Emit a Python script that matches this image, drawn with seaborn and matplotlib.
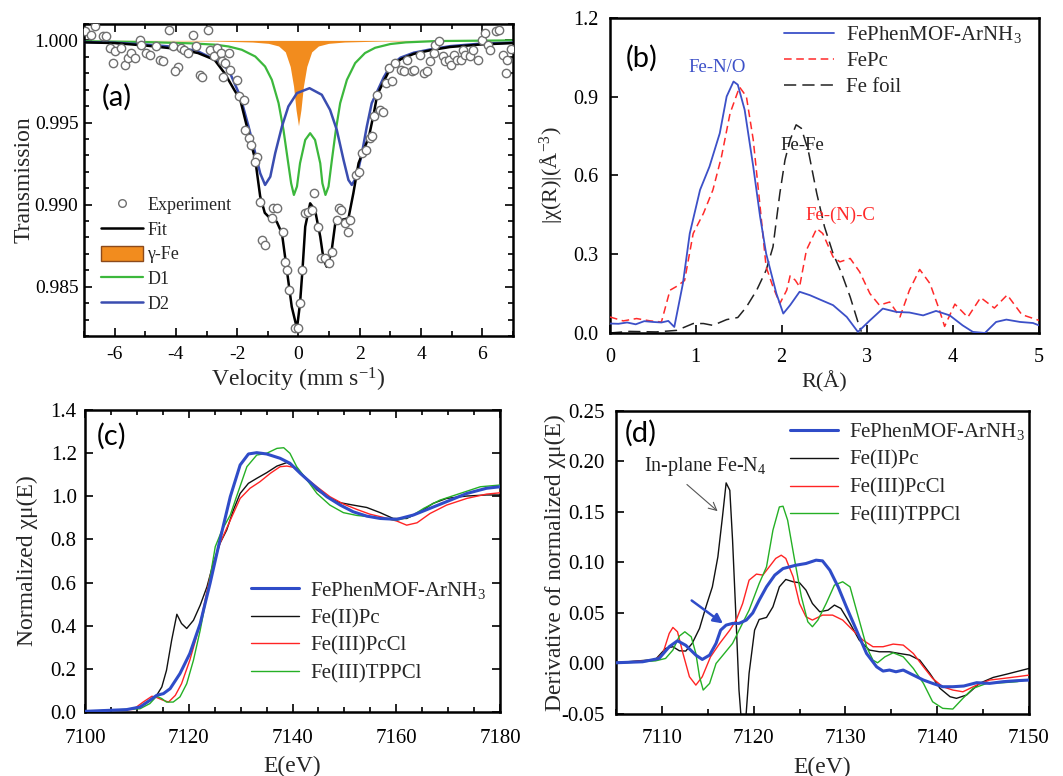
import numpy as np
import pandas as pd
import matplotlib
matplotlib.use('agg')
import matplotlib.pyplot as plt
from matplotlib.patches import Patch
from matplotlib.ticker import MultipleLocator, FormatStrFormatter
import seaborn as sns

sns.set_theme(style="ticks")
plt.rcParams['font.family'] = ['Liberation Serif', 'DejaVu Serif']
plt.rcParams['mathtext.fontset'] = 'custom'
plt.rcParams['mathtext.rm'] = 'Liberation Serif'
plt.rcParams['mathtext.it'] = 'Liberation Serif:italic'
plt.rcParams['axes.unicode_minus'] = False

# ---------------- (a) Moessbauer spectrum ----------------
exp_v = [-6.96, -6.78, -6.65, -6.38, -6.27, -6.16, -6.00, -6.05, -5.78, -5.67, -5.57, -5.46, -5.35,
         -5.18, -5.13, -4.97, -4.86, -4.64, -4.53, -4.42, -4.21, -4.10, -3.93, -4.04, -3.83, -3.72,
         -3.61, -3.45, -3.34, -3.23, -3.15, -2.96, -2.90, -2.76, -2.65, -2.52, -2.47,
         -2.50, -2.39, -2.28, -2.23, -2.01, -1.93, -1.79, -1.74, -1.63, -1.54, -1.36, -1.41, -1.25,
         -1.20, -1.09, -0.87, -0.82, -0.71, -0.49, -0.43, -0.38, -0.30, -0.12, -0.02, 0.05, 0.13,
         0.22, 0.30, 0.43, 0.51, 0.65, 0.74, 0.87, 0.98, 1.09, 1.25, 1.33, 1.39, 1.52, 1.61, 1.68,
         1.87, 1.96, 2.07, 2.20, 2.34, 2.39,
         2.46, 2.57, 2.67, 2.76, 2.84, 3.05, 2.95, 3.16, 3.33, 3.43, 3.54, 3.70, 3.76, 3.98, 4.08,
         4.19, 4.30, 4.41, 4.46, 4.60, 4.73, 4.79, 4.90, 4.97, 5.06, 5.17, 5.30, 5.38, 5.44, 5.60,
         5.71, 5.87, 5.98, 6.09, 6.17, 6.25, 6.44, 6.55, 6.66, 6.77, 6.81, 6.92]
exp_t = [1.00055, 1.00035, 1.00089, 1.00024, 1.00028, 0.99953, 0.99933, 0.99862, 0.99953, 0.99852,
         0.99892, 0.99923, 0.99892, 1.00004, 0.99974, 0.99923, 0.99913, 0.99963, 0.99882, 0.99872,
         1.00065, 0.99963, 0.99841, 0.99811, 0.99953, 0.99943, 0.99923, 1.00035, 0.99963, 0.99791,
         0.99780, 1.00065, 0.99943, 0.99902, 0.99953, 0.99923, 0.99780,
         0.99872, 0.99862, 0.99923, 0.99821, 0.99760, 0.99659, 0.99638, 0.99455, 0.99404, 0.99364,
         0.99293, 0.99262, 0.99018, 0.98785, 0.98754, 0.98917, 0.98978, 0.98978, 0.98835, 0.98652,
         0.98602, 0.98480, 0.98246, 0.98246, 0.98398, 0.98602, 0.98947, 0.98957, 0.98967, 0.99069,
         0.98866, 0.98673, 0.98673, 0.98642, 0.98713, 0.98907, 0.98978, 0.98967, 0.98886, 0.98835,
         0.98907, 0.99181, 0.99201, 0.99313, 0.99333, 0.99404, 0.99415,
         0.99537, 0.99669, 0.99577, 0.99561, 0.99740, 0.99750, 0.99831, 0.99862, 0.99821, 0.99811,
         0.99882, 0.99811, 0.99821, 0.99913, 0.99801, 0.99811, 0.99872, 0.99923, 0.99974, 0.99994,
         0.99902, 0.99872, 0.99882, 0.99852, 0.99913, 0.99882, 0.99882, 0.99943, 0.99913, 0.99902,
         0.99943, 0.99882, 1.00004, 1.00045, 0.99974, 0.99943, 1.00055, 1.00065, 0.99913, 0.99801,
         0.99882, 0.99950]

fit_v = [-7.0, -6.0, -4.9, -3.9, -3.28, -2.74, -2.41, -2.1, -1.9, -1.63, -1.41, -1.25, -1.1, -0.98,
         -0.71, -0.54, -0.38, -0.22, -0.05, 0.05, 0.13, 0.22, 0.38, 0.54, 0.71, 0.82, 0.92, 1.07,
         1.20, 1.41, 1.63, 1.79, 1.96, 2.13, 2.30, 2.46, 2.57, 2.78, 3.0, 3.33, 3.76, 4.30, 4.95,
         5.93, 7.0]
fit_t = [0.99988, 0.99984, 0.99967, 0.99947, 0.99923, 0.99882, 0.99800, 0.99700, 0.99638, 0.99435,
         0.99272, 0.99050, 0.98950, 0.98927, 0.98896, 0.98825, 0.98602, 0.98378, 0.98246, 0.98398,
         0.98602, 0.98866, 0.99008, 0.98967, 0.98805, 0.98663, 0.98622, 0.98703, 0.98886, 0.98907,
         0.98917, 0.99069, 0.99252, 0.99333, 0.99415, 0.99557, 0.99669, 0.99750, 0.99830, 0.99885,
         0.99918, 0.99940, 0.99960, 0.99975, 0.99984]

gfe_v = [-7, -2.7, -1.5, -0.98, -0.65, -0.43, -0.27, -0.16, -0.08, 0.0, 0.08, 0.16, 0.27, 0.43,
         0.65, 0.98, 1.5, 2.7, 7]
gfe_t = [1.0, 0.99996, 0.99990, 0.99982, 0.99966, 0.99930, 0.99841, 0.99720, 0.99577, 0.99480,
         0.99577, 0.99720, 0.99841, 0.99930, 0.99966, 0.99982, 0.99990, 0.99996, 1.0]

d1_v = [-7, -5, -3.5, -2.72, -2.28, -1.85, -1.41, -1.09, -0.87, -0.65, -0.49, -0.35, -0.24, -0.15,
        -0.05, 0.05, 0.22, 0.38, 0.54, 0.71, 0.78, 0.88, 0.98, 1.09, 1.22, 1.36, 1.58, 1.85, 2.17,
        2.5, 3.0, 3.5, 4.5, 7.0]
d1_t = [0.99995, 0.99990, 0.99982, 0.99974, 0.99963, 0.99943, 0.99902, 0.99841, 0.99760, 0.99618,
        0.99455, 0.99272, 0.99130, 0.99059, 0.99110, 0.99252, 0.99394, 0.99435, 0.99394, 0.99252,
        0.99130, 0.99059, 0.99110, 0.99272, 0.99455, 0.99618, 0.99760, 0.99862, 0.99923, 0.99955,
        0.99978, 0.99988, 0.99996, 1.0]

d2_v = [-7, -6, -5, -4, -3.3, -2.72, -2.28, -1.90, -1.63, -1.41, -1.25, -1.09, -0.92, -0.76, -0.54,
        -0.33, -0.05, 0.36, 0.76, 1.03, 1.25, 1.47, 1.63, 1.74, 1.90, 2.07, 2.23, 2.39, 2.57, 2.78,
        3.0, 3.33, 3.76, 4.3, 4.95, 5.93, 7.0]
d2_t = [0.99990, 0.99986, 0.99975, 0.99960, 0.99935, 0.99882, 0.99821, 0.99659, 0.99476, 0.99313,
        0.99191, 0.99120, 0.99170, 0.99313, 0.99476, 0.99598, 0.99679, 0.99709, 0.99669, 0.99577,
        0.99455, 0.99272, 0.99150, 0.99120, 0.99170, 0.99313, 0.99476, 0.99618, 0.99690, 0.99775,
        0.99845, 0.99895, 0.99925, 0.99945, 0.99965, 0.99980, 0.99986]

# ---------------- (b) Fourier transformed EXAFS ----------------
r_mof = [0.0, 0.1, 0.2, 0.3, 0.4, 0.5, 0.6, 0.68, 0.75, 0.85, 0.93, 1.05, 1.16, 1.28, 1.36, 1.44,
         1.49, 1.57, 1.67, 1.75, 1.82, 1.94, 2.02, 2.10, 2.21, 2.33, 2.45, 2.60, 2.76, 2.89, 3.03,
         3.18, 3.34, 3.49, 3.65, 3.80, 3.96, 4.11, 4.23, 4.37, 4.50, 4.62, 4.78, 4.93, 5.0]
chi_mof = [0.036, 0.035, 0.040, 0.033, 0.045, 0.042, 0.040, 0.046, 0.023, 0.188, 0.379, 0.545,
           0.634, 0.761, 0.901, 0.958, 0.946, 0.850, 0.634, 0.443, 0.303, 0.150, 0.074, 0.106,
           0.157, 0.144, 0.127, 0.106, 0.061, 0.004, 0.048, 0.093, 0.080, 0.078, 0.067, 0.084,
           0.067, 0.029, 0.004, 0.000, 0.042, 0.051, 0.042, 0.038, 0.029]

r_fepc = [0.0, 0.155, 0.31, 0.47, 0.60, 0.70, 0.78, 0.87, 0.97, 1.09, 1.20, 1.30, 1.40, 1.51, 1.59,
          1.67, 1.75, 1.82, 1.90, 1.98, 2.06, 2.10, 2.16, 2.21, 2.29, 2.41, 2.48, 2.60, 2.68, 2.80,
          2.91, 3.03, 3.14, 3.26, 3.38, 3.49, 3.61, 3.73, 3.84, 3.90, 4.02, 4.17, 4.32, 4.48, 4.63,
          4.80, 5.0]
chi_fepc = [0.061, 0.046, 0.055, 0.046, 0.042, 0.163, 0.178, 0.200, 0.379, 0.456, 0.545, 0.672,
            0.837, 0.937, 0.901, 0.736, 0.481, 0.252, 0.176, 0.112, 0.163, 0.218, 0.201, 0.176,
            0.316, 0.398, 0.379, 0.290, 0.271, 0.284, 0.233, 0.150, 0.106, 0.118, 0.061, 0.163,
            0.242, 0.188, 0.087, 0.025, 0.110, 0.060, 0.135, 0.095, 0.145, 0.070, 0.048]

r_foil = [0.0, 0.23, 0.54, 0.78, 0.97, 1.09, 1.20, 1.36, 1.49, 1.59, 1.71, 1.82, 1.90, 1.98, 2.04,
          2.10, 2.17, 2.23, 2.31, 2.41, 2.50, 2.60, 2.70, 2.80, 2.89, 2.93]
chi_foil = [0.0, 0.006, 0.004, 0.010, 0.036, 0.036, 0.029, 0.051, 0.059, 0.099, 0.163, 0.239, 0.328,
            0.532, 0.659, 0.736, 0.793, 0.780, 0.697, 0.532, 0.405, 0.303, 0.227, 0.137, 0.042,
            0.005]

# ---------------- (c) XANES ----------------
e_c_mof = [7100, 7108, 7110.6, 7112.5, 7113.8, 7115.1, 7116.4, 7118.3, 7120.2, 7122.2, 7124.1,
           7126.0, 7128.0, 7129.9, 7131.5, 7133.1, 7135.0, 7137.6, 7139.5, 7141.5, 7144.0, 7146.6,
           7149.2, 7151.7, 7154.3, 7156.9, 7160.1, 7163.3, 7166.5, 7169.7, 7173.6, 7177.4, 7180]
mu_c_mof = [0.003, 0.011, 0.023, 0.054, 0.077, 0.085, 0.108, 0.178, 0.271, 0.410, 0.596, 0.797,
            0.998, 1.145, 1.196, 1.202, 1.196, 1.176, 1.153, 1.106, 1.052, 0.998, 0.959, 0.928,
            0.908, 0.897, 0.893, 0.913, 0.944, 0.975, 1.013, 1.037, 1.044]

e_c_pc = [7100, 7108, 7110.6, 7112.5, 7113.8, 7114.8, 7115.7, 7116.7, 7117.7, 7118.6, 7119.6,
          7120.9, 7122.2, 7123.5, 7124.7, 7126.0, 7127.3, 7128.6, 7129.9, 7131.5, 7133.1, 7135.0,
          7137.0, 7138.9, 7140.8, 7142.8, 7144.7, 7146.6, 7149.2, 7151.7, 7154.3, 7156.9, 7159.4,
          7162.0, 7164.6, 7167.1, 7169.7, 7173.6, 7177.4, 7180]
mu_c_pc = [0.003, 0.011, 0.023, 0.054, 0.077, 0.116, 0.193, 0.333, 0.453, 0.410, 0.387, 0.425,
           0.495, 0.580, 0.688, 0.781, 0.843, 0.936, 1.013, 1.060, 1.083, 1.109, 1.140, 1.156,
           1.129, 1.076, 1.029, 0.998, 0.970, 0.959, 0.948, 0.924, 0.897, 0.897, 0.928, 0.967,
           0.990, 1.001, 1.006, 1.006]

e_c_pccl = [7100, 7109.3, 7111.2, 7112.9, 7113.8, 7115.1, 7116.1, 7117.4, 7118.6, 7120.2, 7122.2,
            7124.1, 7126.0, 7128.0, 7129.9, 7131.8, 7133.7, 7135.7, 7137.6, 7138.9, 7140.2, 7142.1,
            7144.7, 7147.2, 7149.8, 7152.4, 7154.9, 7157.5, 7160.1, 7162.0, 7164.0, 7166.5, 7169.7,
            7173.6, 7177.4, 7180]
mu_c_pccl = [0.003, 0.012, 0.046, 0.073, 0.067, 0.054, 0.046, 0.077, 0.131, 0.240, 0.410, 0.627,
             0.781, 0.889, 0.990, 1.037, 1.067, 1.106, 1.137, 1.140, 1.134, 1.094, 1.044, 0.998,
             0.964, 0.939, 0.917, 0.902, 0.885, 0.866, 0.877, 0.920, 0.959, 0.990, 1.010, 1.016]

e_c_tpp = [7100, 7110.6, 7112.5, 7113.8, 7114.8, 7115.7, 7117.0, 7118.3, 7119.6, 7120.9, 7122.2,
           7123.8, 7125.1, 7126.4, 7128.0, 7129.2, 7131.2, 7133.1, 7135.0, 7137.0, 7138.3, 7139.5,
           7140.8, 7142.8, 7144.7, 7147.2, 7149.8, 7152.4, 7154.9, 7157.5, 7160.1, 7162.7, 7165.3,
           7168.4, 7172.3, 7176.2, 7180]
mu_c_tpp = [0.003, 0.015, 0.039, 0.073, 0.062, 0.046, 0.046, 0.070, 0.131, 0.240, 0.379, 0.580,
            0.766, 0.843, 0.913, 0.998, 1.137, 1.191, 1.199, 1.222, 1.225, 1.199, 1.137, 1.075,
            1.013, 0.959, 0.924, 0.911, 0.905, 0.897, 0.889, 0.905, 0.944, 0.982, 1.013, 1.044,
            1.052]

# ---------------- (d) XANES first derivative ----------------
e_d_mof = [7104.9, 7107.9, 7109.7, 7110.8, 7111.7, 7112.6, 7113.7, 7114.4, 7115.2, 7115.9, 7116.4,
           7117.0, 7117.7, 7118.4, 7119.2, 7119.9, 7120.6, 7121.4, 7122.3, 7123.2, 7124.6, 7125.7,
           7126.8, 7127.5, 7128.3, 7129.2, 7130.1, 7131.2, 7132.3, 7133.4, 7134.1, 7134.8, 7135.5,
           7136.3, 7137.4, 7138.5, 7139.5, 7140.6, 7141.7, 7142.9, 7144.3, 7145.7, 7147.2, 7148.7,
           7150]
d_mof = [0.0007, 0.0017, 0.005, 0.0166, 0.0225, 0.018, 0.0083, 0.004, 0.0083, 0.0199, 0.033, 0.038,
         0.0397, 0.0397, 0.043, 0.050, 0.0627, 0.0759, 0.0875, 0.094, 0.0973, 0.099, 0.1023, 0.1016,
         0.0924, 0.0759, 0.0561, 0.033, 0.0099, -0.0033, -0.0075, -0.0065, -0.0082, -0.0065,
         -0.0115, -0.0164, -0.0197, -0.023, -0.023, -0.0223, -0.019, -0.0197, -0.018, -0.017,
         -0.0164]

e_d_pc = [7104.9, 7109.3, 7110.4, 7111.2, 7111.9, 7112.6, 7113.3, 7114.1, 7114.8, 7115.5, 7116.1,
          7116.6, 7117.0, 7117.4, 7117.7, 7118.1, 7118.4, 7118.9, 7119.5, 7120.1, 7120.6, 7121.4,
          7122.1, 7122.8, 7123.5, 7124.3, 7125.0, 7125.7, 7126.4, 7127.2, 7128.1, 7128.8, 7129.5,
          7130.5, 7131.5, 7132.6, 7133.7, 7134.8, 7135.9, 7137.0, 7138.1, 7139.2, 7140.3, 7141.4,
          7142.1, 7143.2, 7144.6, 7146.1, 7147.6, 7150]
d_pc = [0.0007, 0.004, 0.0149, 0.0166, 0.0126, 0.0123, 0.0199, 0.0347, 0.0561, 0.0759, 0.1056,
        0.1452, 0.1788, 0.1715, 0.1221, 0.0397, -0.0263, -0.085, -0.0098, 0.033, 0.0436, 0.0456,
        0.0561, 0.0759, 0.0832, 0.0809, 0.0799, 0.0726, 0.0594, 0.0512, 0.0528, 0.0578, 0.0545,
        0.0397, 0.0232, 0.0133, 0.0116, 0.0116, 0.0099, 0.0083, 0.0033, -0.0099, -0.0246,
        -0.0329, -0.0345, -0.0312, -0.0197, -0.0138, -0.0105, -0.0049]

e_d_pccl = [7104.9, 7109.3, 7110.1, 7110.8, 7111.2, 7111.7, 7112.3, 7113.0, 7113.7, 7114.4,
            7115.3, 7116.3, 7117.4, 7118.1, 7118.8, 7119.5, 7120.3, 7121.0, 7121.7, 7122.4,
            7123.0, 7123.5, 7124.3, 7125.0, 7125.7, 7126.4, 7127.5, 7128.6, 7129.7, 7130.8,
            7131.9, 7133.0, 7134.1, 7135.2, 7136.3, 7137.4, 7138.5, 7139.5, 7140.6, 7141.7,
            7142.8, 7144.3, 7145.7, 7147.2, 7148.7, 7150]
d_pccl = [0.0007, 0.0033, 0.0099, 0.0298, 0.0357, 0.0314, 0.0099, -0.0131, -0.0214, -0.0131,
          0.0066, 0.0199, 0.033, 0.043, 0.0594, 0.0825, 0.0885, 0.0875, 0.0957, 0.104, 0.1072,
          0.104, 0.0858, 0.0594, 0.0462, 0.043, 0.0479, 0.0479, 0.043, 0.033, 0.0232, 0.0166,
          0.0166, 0.0192, 0.0182, 0.0099, -0.0033, -0.0148, -0.023, -0.0263, -0.028, -0.0214,
          -0.0164, -0.0148, -0.0131, -0.0115]

e_d_tpp = [7104.9, 7109.3, 7110.4, 7111.2, 7111.9, 7112.5, 7113.2, 7113.7, 7114.1, 7114.5, 7115.2,
           7115.9, 7116.8, 7117.7, 7118.6, 7119.5, 7120.6, 7121.4, 7122.1, 7122.8, 7123.2, 7123.7,
           7124.4, 7125.2, 7125.9, 7126.4, 7127.0, 7127.9, 7128.8, 7129.7, 7130.5, 7131.4, 7132.3,
           7133.0, 7133.5, 7134.3, 7135.2, 7136.3, 7137.4, 7138.5, 7139.5, 7140.6, 7141.7, 7142.8,
           7143.9, 7145.4, 7147.2, 7148.7, 7150]
d_tpp = [0.0, 0.0026, 0.005, 0.0133, 0.0271, 0.0314, 0.0264, 0.0099, -0.0131, -0.0263, -0.0197,
         0.0, 0.0099, 0.0199, 0.0364, 0.0528, 0.0792, 0.0957, 0.132, 0.155, 0.1557, 0.1419, 0.1056,
         0.066, 0.0413, 0.0364, 0.043, 0.0594, 0.0776, 0.0809, 0.0759, 0.0462, 0.0166, 0.0033,
         0.0007, 0.0066, 0.0106, 0.0066, -0.0049, -0.0197, -0.0379, -0.0444, -0.0451, -0.0345,
         -0.0246, -0.0197, -0.019, -0.018, -0.0157]

names = ["FePhenMOF-ArNH$\\mathregular{_3}$", "Fe(II)Pc", "Fe(III)PcCl", "Fe(III)TPPCl"]

c_blue = "#2f4cc8"
c_black = "#111111"
c_red = "#ff2424"
c_green = "#25b025"


def line(ax, x, y, color, lw, ls="-", label=None, z=2):
    sns.lineplot(x=x, y=y, ax=ax, color=color, linewidth=lw, linestyle=ls,
                 estimator=None, sort=False, label=label, zorder=z)


def frame(ax, tick_size, xpad, ypad, top=False, right=False):
    for s in ax.spines.values():
        s.set_visible(True)
        s.set_linewidth(1.8)
        s.set_color("black")
    ax.tick_params(which="both", direction="in", top=top, right=right, colors="black", width=1.2)
    ax.tick_params(which="major", length=6, labelsize=tick_size)
    ax.tick_params(which="minor", length=3.5)
    ax.tick_params(axis="x", pad=xpad)
    ax.tick_params(axis="y", pad=ypad)
    ax.grid(False)


def panel_tag(ax, tag, x, y):
    ax.text(x, y, tag, transform=ax.transAxes, ha="center", va="center",
            fontsize=21, family=["Lato", "DejaVu Sans"], color="black")


fig = plt.figure(figsize=(10.63, 7.76), dpi=100)
ax_a = fig.add_axes([0.0790, 0.5670, 0.4036, 0.4021])
ax_b = fig.add_axes([0.5738, 0.5709, 0.4036, 0.4059])
ax_c = fig.add_axes([0.0800, 0.0825, 0.3904, 0.3892])
ax_d = fig.add_axes([0.5795, 0.0799, 0.3885, 0.3905])

# ----- (a)
ax = ax_a
ax.fill_between(gfe_v, gfe_t, 1.0, color="#f28c1e", linewidth=0, zorder=1)
line(ax, d1_v, d1_t, "#3cb83c", 1.6, z=2)
line(ax, d2_v, d2_t, "#3a4db0", 1.8, z=3)
line(ax, fit_v, fit_t, "black", 1.8, z=4)
sns.scatterplot(x=exp_v, y=exp_t, ax=ax, s=36, color="white", edgecolor="#707070",
                linewidth=1.0, zorder=6)
ax.set_xlim(-7, 7)
ax.set_ylim(0.982, 1.001)
ax.xaxis.set_major_locator(MultipleLocator(2))
ax.xaxis.set_minor_locator(MultipleLocator(1))
ax.yaxis.set_major_locator(MultipleLocator(0.005))
ax.yaxis.set_minor_locator(MultipleLocator(0.001))
ax.yaxis.set_major_formatter(FormatStrFormatter("%.3f"))
frame(ax, 14, 7, 4, top=True, right=True)
ax.set_xlabel("Velocity (mm s$^{-1}$)", fontsize=17)
ax.set_ylabel("Transmission", fontsize=17)
ax.xaxis.set_label_coords(0.5, -0.095)
ax.yaxis.set_label_coords(-0.115, 0.5)
h_exp = plt.Line2D([], [], marker="o", ls="none", markersize=5.5, markerfacecolor="white",
                   markeredgecolor="#707070", markeredgewidth=1.0)
h_fit = plt.Line2D([], [], color="black", lw=1.8)
h_gfe = Patch(facecolor="#f28c1e", edgecolor="#8b4a1c", linewidth=1.0)
h_d1 = plt.Line2D([], [], color="#3cb83c", lw=1.6)
h_d2 = plt.Line2D([], [], color="#3a4db0", lw=1.8)
ax.legend([h_exp, h_fit, h_gfe, h_d1, h_d2], ["Experiment", "Fit", "γ-Fe", "D1", "D2"],
          loc="lower left", bbox_to_anchor=(0.04, 0.075), frameon=False, fontsize=13,
          handlelength=2.3, handleheight=0.9, handletextpad=0.25, labelspacing=0.38,
          borderpad=0, borderaxespad=0)
panel_tag(ax, "(a)", 0.077, 0.766)

# ----- (b)
ax = ax_b
line(ax, r_foil, chi_foil, "#222222", 1.1, ls=(0, (8, 4)), label="Fe foil", z=2)
line(ax, r_fepc, chi_fepc, "#ff2a2a", 1.1, ls=(0, (5, 3)), label="FePc", z=3)
line(ax, r_mof, chi_mof, "#3c50c8", 1.3, label="FePhenMOF-ArNH$\\mathregular{_3}$", z=4)
ax.set_xlim(0, 5)
ax.set_ylim(0, 1.2)
ax.xaxis.set_major_locator(MultipleLocator(1))
ax.yaxis.set_major_locator(MultipleLocator(0.3))
ax.yaxis.set_major_formatter(FormatStrFormatter("%.1f"))
frame(ax, 14.5, 11, 8)
ax.set_xlabel("R(Å)", fontsize=16)
ax.set_ylabel("|χ(R)|(Å$^{-3}$)", fontsize=16)
ax.xaxis.set_label_coords(0.5, -0.12)
ax.yaxis.set_label_coords(-0.105, 0.5)
hb, lb = ax.get_legend_handles_labels()
ax.legend(hb[::-1], lb[::-1], loc="upper left", bbox_to_anchor=(0.405, 0.98), frameon=False,
          fontsize=15, handlelength=2.4, handletextpad=0.6, labelspacing=0.3,
          borderpad=0, borderaxespad=0)
ax.text(1.25, 1.01, "Fe-N/O", color="#3c50c8", fontsize=13.5, ha="center", va="center")
ax.text(2.24, 0.716, "Fe-Fe", color="#222222", fontsize=13.5, ha="center", va="center")
ax.text(2.68, 0.45, "Fe-(N)-C", color="#ff2a2a", fontsize=13.5, ha="center", va="center")
panel_tag(ax, "(b)", 0.075, 0.873)

# ----- (c)
ax = ax_c
line(ax, e_c_pc, mu_c_pc, c_black, 1.0, label=names[1], z=2)
line(ax, e_c_pccl, mu_c_pccl, c_red, 1.0, label=names[2], z=3)
line(ax, e_c_tpp, mu_c_tpp, c_green, 1.0, label=names[3], z=4)
line(ax, e_c_mof, mu_c_mof, c_blue, 2.2, label=names[0], z=5)
ax.set_xlim(7100, 7180)
ax.set_ylim(0, 1.4)
ax.xaxis.set_major_locator(MultipleLocator(20))
ax.xaxis.set_minor_locator(MultipleLocator(5))
ax.yaxis.set_major_locator(MultipleLocator(0.2))
ax.yaxis.set_major_formatter(FormatStrFormatter("%.1f"))
frame(ax, 15, 12, 6, top=True, right=True)
ax.set_xlabel("E(eV)", fontsize=17)
ax.set_ylabel("Normalized χμ(E)", fontsize=17)
ax.xaxis.set_label_coords(0.5, -0.145)
ax.yaxis.set_label_coords(-0.113, 0.5)
hc, lc = ax.get_legend_handles_labels()
order = [3, 0, 1, 2]
ax.legend([hc[i] for i in order], [lc[i] for i in order], loc="lower left",
          bbox_to_anchor=(0.40, 0.095), frameon=False, fontsize=15, handlelength=2.3,
          handletextpad=0.55, labelspacing=0.38, borderpad=0, borderaxespad=0)
panel_tag(ax, "(c)", 0.065, 0.914)

# ----- (d)
ax = ax_d
line(ax, e_d_pc, d_pc, c_black, 1.0, label=names[1], z=2)
line(ax, e_d_pccl, d_pccl, c_red, 1.0, label=names[2], z=3)
line(ax, e_d_tpp, d_tpp, c_green, 1.0, label=names[3], z=4)
line(ax, e_d_mof, d_mof, c_blue, 2.2, label=names[0], z=5)
ax.set_xlim(7105, 7150)
ax.set_ylim(-0.05, 0.25)
ax.xaxis.set_major_locator(MultipleLocator(10))
ax.xaxis.set_minor_locator(MultipleLocator(5))
ax.yaxis.set_major_locator(MultipleLocator(0.05))
ax.yaxis.set_major_formatter(FormatStrFormatter("%.2f"))
frame(ax, 15, 11, 8)
ax.set_xlabel("E(eV)", fontsize=17)
ax.set_ylabel("Derivative of normalized χμ(E)", fontsize=17)
ax.xaxis.set_label_coords(0.5, -0.14)
ax.yaxis.set_label_coords(-0.121, 0.5)
hd, ld = ax.get_legend_handles_labels()
ax.legend([hd[i] for i in order], [ld[i] for i in order], loc="upper left",
          bbox_to_anchor=(0.421, 0.967), frameon=False, fontsize=15, handlelength=2.3,
          handletextpad=0.55, labelspacing=0.4, borderpad=0, borderaxespad=0)
ax.text(7114.7, 0.1946, "In-plane Fe-N$\\mathregular{_4}$", fontsize=14.5, ha="center",
        va="center", color="#222222")
ax.annotate("", xy=(7116.3, 0.149), xytext=(7112.5, 0.179),
            arrowprops=dict(arrowstyle="->", color="#555555", lw=0.8, mutation_scale=14))
ax.annotate("", xy=(7116.9, 0.038), xytext=(7113.0, 0.064),
            arrowprops=dict(arrowstyle="-|>", color=c_blue, lw=1.8, mutation_scale=14))
panel_tag(ax, "(d)", 0.06, 0.927)

fig.savefig("out.png", dpi=100)
